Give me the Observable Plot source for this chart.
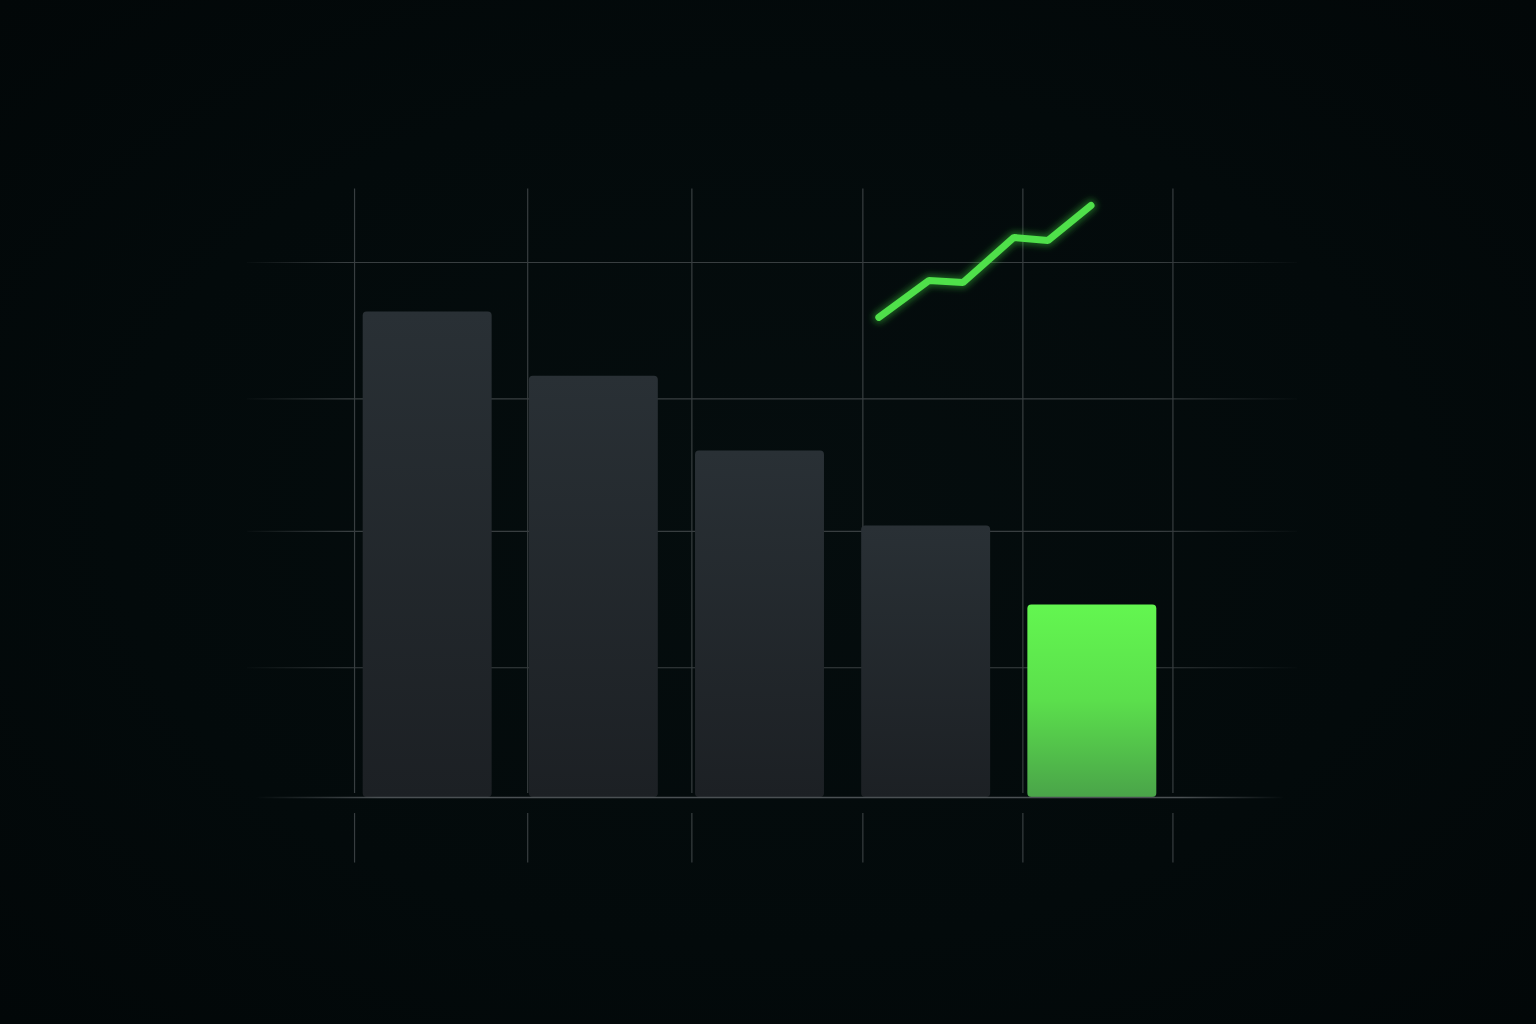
<!DOCTYPE html>
<html>
<head>
<meta charset="utf-8">
<script src="https://cdn.jsdelivr.net/npm/d3@7"></script>
<script src="https://cdn.jsdelivr.net/npm/@observablehq/plot@0.6"></script>
<style>
  html, body { margin: 0; padding: 0; width: 1536px; height: 1024px; overflow: hidden;
    background: radial-gradient(ellipse at 50% 50%, #050d0e 0%, #030a0b 60%, #020708 100%); }
  #chart svg { display: block; overflow: visible; }
</style>
</head>
<body>
<div id="chart"></div>
<script>
// Categories (slot positions 1..5) and bar values
const categories = [1, 2, 3, 4, 5];
const values = [3.63, 3.15, 2.59, 2.03, 1.44];
const highlight = [false, false, false, false, true];

// Trend line points (x in slot units, y in value units)
const lineX = [3.715, 4.016, 4.221, 4.528, 4.733, 4.992];
const lineY = [3.59, 3.865, 3.85, 4.187, 4.164, 4.426];

// Grid positions
const gridX = [0.56, 1.602, 2.59, 3.619, 4.582, 5.485];
const gridY = [0.97, 1.99, 2.98, 4.0];

const barHalf = 0.388;

const bars = categories.map((c, i) => ({ c, value: values[i], hi: highlight[i] }));
const trend = lineX.map((x, i) => ({ x, y: lineY[i] }));

const plot = Plot.plot({
  width: 1536,
  height: 1024,
  marginLeft: 261,
  marginRight: 278,
  marginTop: 262,
  marginBottom: 227,
  x: { domain: [0, 6], axis: null },
  y: { domain: [0, 4], axis: null },
  style: { background: "transparent", overflow: "visible" },
  marks: [
    // horizontal grid
    Plot.ruleY(gridY, { y: d => d, x1: -0.084, x2: 6.235, stroke: "url(#hfade)", strokeWidth: 1.2 }),
    // vertical grid above baseline
    Plot.ruleX(gridX, { x: d => d, y1: 0.03, y2: 4.55, stroke: "#383e40", strokeWidth: 1.2 }),
    // ticks below baseline
    Plot.ruleX(gridX, { x: d => d, y1: -0.12, y2: -0.49, stroke: "#383e40", strokeWidth: 1.2 }),
    // bars
    Plot.rectY(bars, {
      x1: d => d.c - barHalf, x2: d => d.c + barHalf, y: "value",
      fill: d => d.hi ? "url(#gGreen)" : "url(#gGray)", rx: 4
    }),
    // baseline
    Plot.ruleY([0], { x1: -0.05, x2: 6.15, stroke: "url(#bfade)", strokeWidth: 1.6 }),
    // trend line glow
    Plot.line(trend, { x: "x", y: "y", stroke: "#3fd83c", strokeWidth: 12, strokeOpacity: 0.4,
      strokeLinecap: "round", strokeLinejoin: "round" }),
    Plot.line(trend, { x: "x", y: "y", stroke: "#4fe04a", strokeWidth: 7,
      strokeLinecap: "round", strokeLinejoin: "miter" })
  ]
});

const svg = d3.select(plot);
const defs = svg.insert("defs", ":first-child");
function lin(id, attrs, stops) {
  const g = defs.append("linearGradient").attr("id", id);
  Object.entries(attrs).forEach(([k, v]) => g.attr(k, v));
  stops.forEach(([o, c, op]) => g.append("stop").attr("offset", o).attr("stop-color", c).attr("stop-opacity", op ?? 1));
}
lin("hfade", { gradientUnits: "userSpaceOnUse", x1: 240, x2: 1305, y1: 0, y2: 0 }, [
  [0, "#383e40", 0], [0.1, "#383e40", 1], [0.86, "#383e40", 1], [1, "#383e40", 0]
]);
lin("bfade", { gradientUnits: "userSpaceOnUse", x1: 255, x2: 1285, y1: 0, y2: 0 }, [
  [0, "#4a5053", 0], [0.12, "#4a5053", 1], [0.9, "#4a5053", 1], [1, "#4a5053", 0]
]);
lin("gGray", { x1: 0, x2: 0, y1: 0, y2: 1 }, [
  [0, "#293035"], [1, "#1c2024"]
]);
lin("gGreen", { x1: 0, x2: 0, y1: 0, y2: 1 }, [
  [0, "#63f650"], [0.5, "#5bdf4c"], [1, "#4aa449"]
]);
const f = defs.append("filter").attr("id", "glow").attr("x", "-20%").attr("y", "-50%").attr("width", "140%").attr("height", "200%");
f.append("feGaussianBlur").attr("stdDeviation", 3);

const lineGroups = svg.selectAll('g[aria-label="line"]').nodes();
if (lineGroups.length) lineGroups[0].setAttribute("filter", "url(#glow)");

document.getElementById("chart").appendChild(plot);
</script>
</body>
</html>
